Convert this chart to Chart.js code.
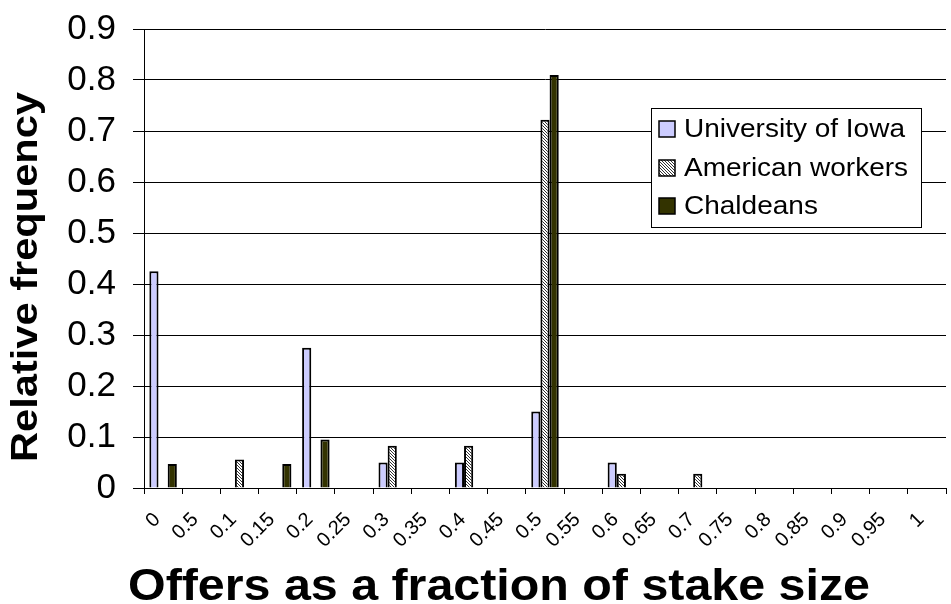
<!DOCTYPE html>
<html>
<head>
<meta charset="utf-8">
<script src="https://cdn.jsdelivr.net/npm/chart.js@4.4.1/dist/chart.umd.min.js"></script>
<style>
html,body{margin:0;padding:0;background:#fff;}
#wrap{width:951px;height:604px;position:relative;}
</style>
</head>
<body>
<div id="wrap"><canvas id="c" width="951" height="604"></canvas></div>
<script>
const categories = ['0','0.5','0.1','0.15','0.2','0.25','0.3','0.35','0.4','0.45','0.5','0.55','0.6','0.65','0.7','0.75','0.8','0.85','0.9','0.95','1'];
const iowa      = [0.425,0,0,0,0.275,0,0.05,0,0.05,0,0.15,0,0.05,0,0,0,0,0,0,0,0];
const workers   = [0,0,0.056,0,0,0,0.083,0,0.083,0,0.722,0,0.028,0,0.028,0,0,0,0,0,0];
const chaldeans = [0.047,0,0,0.047,0.095,0,0,0,0,0,0.81,0,0,0,0,0,0,0,0,0,0];
const seriesNames = ['University of Iowa','American workers','Chaldeans'];
const xTitle = 'Offers as a fraction of stake size';
const yTitle = 'Relative frequency';

const FONT = '"Liberation Sans", Arial, sans-serif';

function hatchPattern(){
  const c = document.createElement('canvas');
  c.width = 3; c.height = 3;
  const g = c.getContext('2d');
  g.fillStyle = '#ffffff'; g.fillRect(0,0,3,3);
  g.fillStyle = '#333333';
  for (let i=0;i<3;i++) g.fillRect(i,i,1,1);
  return g.createPattern(c,'repeat');
}
const hatch = hatchPattern();
const fills = ['#ccccff', hatch, '#333300'];

const overlay = {
  id:'overlay',
  afterDraw(chart){
    const ctx = chart.ctx;
    ctx.save();
    // Legend
    const lx=651, ly=108, lw=270, lh=119;
    ctx.fillStyle='#fff'; ctx.fillRect(lx,ly,lw,lh);
    ctx.strokeStyle='#000'; ctx.lineWidth=1;
    ctx.strokeRect(lx+0.5,ly+0.5,lw,lh);
    const rows=[129,168,206];
    chart.data.datasets.forEach((ds,i)=>{
      const y=rows[i];
      ctx.fillStyle=ds.backgroundColor;
      ctx.fillRect(659,y-8,16,16);
      ctx.strokeStyle='#000'; ctx.lineWidth=1.5;
      ctx.strokeRect(659,y-8,16,16);
      ctx.save();
      ctx.translate(684,y);
      ctx.scale(1.12,1);
      ctx.fillStyle='#000';
      ctx.font='25px '+FONT;
      ctx.textBaseline='middle';
      ctx.textAlign='left';
      ctx.fillText(ds.label,0,1);
      ctx.restore();
    });
    // Axis titles
    ctx.fillStyle='#000';
    ctx.save();
    ctx.translate(499,600);
    ctx.font='bold 44px '+FONT;
    const w = ctx.measureText(xTitle).width;
    ctx.scale(742/w,1);
    ctx.textAlign='center';
    ctx.textBaseline='alphabetic';
    ctx.fillText(xTitle,0,0);
    ctx.restore();
    ctx.save();
    ctx.translate(27,277);
    ctx.rotate(-Math.PI/2);
    ctx.font='bold 36px '+FONT;
    const w2 = ctx.measureText(yTitle).width;
    ctx.scale(370/w2,1);
    ctx.textAlign='center';
    ctx.textBaseline='middle';
    ctx.fillText(yTitle,0,0);
    ctx.restore();
    ctx.restore();
  }
};

new Chart(document.getElementById('c'), {
  type:'bar',
  data:{
    labels:categories,
    datasets:[
      {label:seriesNames[0], data:iowa, backgroundColor:fills[0]},
      {label:seriesNames[1], data:workers, backgroundColor:fills[1]},
      {label:seriesNames[2], data:chaldeans, backgroundColor:fills[2]}
    ].map(d=>Object.assign(d,{borderColor:'#000',borderWidth:2,borderSkipped:'start',categoryPercentage:0.72,barPercentage:1.0}))
  },
  options:{
    responsive:false,
    animation:false,
    devicePixelRatio:1,
    layout:{padding:{top:29,right:5,left:0,bottom:0}},
    plugins:{legend:{display:false},tooltip:{enabled:false},title:{display:false}},
    scales:{
      x:{
        offset:true,
        grid:{display:true,drawOnChartArea:false,drawTicks:true,tickLength:6,color:'#000',offset:true},
        border:{display:true,color:'#000',width:1},
        ticks:{autoSkip:false,maxRotation:45,minRotation:45,padding:14,labelOffset:-6,color:'#000',font:{family:FONT,size:20}},
        afterFit(s){ s.height = 116; s.paddingLeft = 0; s.paddingRight = 0; }
      },
      y:{
        min:0,max:0.9,
        grid:{color:'#000',lineWidth:1,tickLength:11,drawTicks:true},
        border:{display:true,color:'#000',width:1},
        ticks:{stepSize:0.1,padding:17,color:'#000',font:{family:FONT,size:35},callback:v=>String(+v.toFixed(1))},
        afterFit(s){ s.width = 144; s.paddingTop = 0; s.paddingBottom = 0; }
      }
    }
  },
  plugins:[overlay]
});
</script>
</body>
</html>
